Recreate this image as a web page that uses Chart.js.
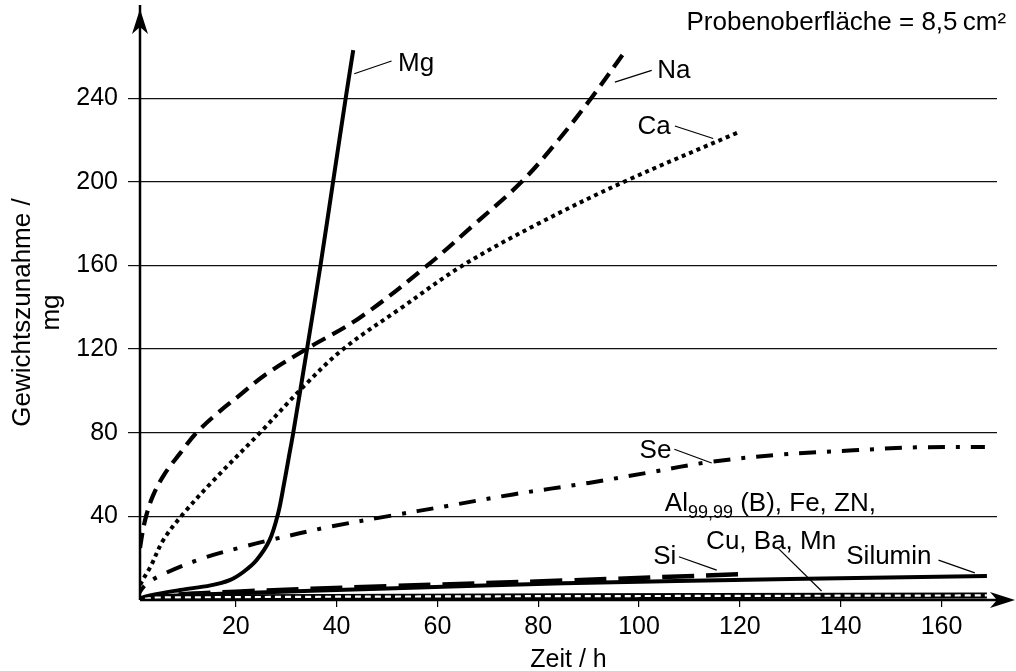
<!DOCTYPE html>
<html>
<head>
<meta charset="utf-8">
<script src="https://cdn.jsdelivr.net/npm/chart.js@4"></script>
<style>
  html, body { margin: 0; padding: 0; background: #fff; }
</style>
</head>
<body>
<canvas id="grafico" width="1016" height="671"></canvas>
<script>
// Werte (Zeit in h, Gewichtszunahme in mg)
var magnesium = [[0,0],[3,2.2],[9,4.8],[15,7],[18.8,9.5],[21.5,13.4],[24.1,19],[26.7,28.6],[28.4,41.4],[29.6,56],[30.5,68],[31.4,80],[34.2,121],[36.8,160],[39.3,200],[41.8,240],[43.3,263]];
var natrium = [[0,0],[0.5,14],[1.2,28],[2.2,40],[3.6,50],[5.8,60],[8.9,70],[12.2,80],[16.2,89],[20.8,98],[26,108],[34,120],[44.6,135],[58,160],[67,179],[76.7,200],[84,220],[90.5,240],[97.4,263]];
var calcium = [[0,0],[1.2,8],[3.1,16],[5.6,28.6],[9.5,41],[15.5,57],[24.8,80],[33.4,102],[41.3,120],[53,140],[65,160],[80,180],[97,200],[119.5,223.5]];
var selen = [[0,0],[2,7],[5.3,12],[13.5,20],[21.4,25.4],[26.7,28.6],[38.6,35],[50,40],[62,45],[75,50.5],[90,56],[102,61],[114,66],[128,69.5],[142.5,71.6],[155,73],[168.6,73.2]];
var silizium = [[0,0],[5,2],[20,4],[50,6.6],[85,9.3],[121,12.4]];
var silumin = [[0,0],[3,1.5],[20,3.2],[50,5.5],[85,8],[130,10],[169,11.5]];
var aluminium = [[0,0],[5,1.2],[169,2.2]];

var xTicks = [20, 40, 60, 80, 100, 120, 140, 160];
var yTicks = [40, 80, 120, 160, 200, 240];

// Beschriftungen in Datenkoordinaten
var labels = [
  { text: "Mg", x: 52.2, y: 256.2, line: [43.5, 251.7, 50.9, 257.8] },
  { text: "Na", x: 103.6, y: 253, line: [95.2, 247.7, 102.5, 253.3] },
  { text: "Ca", x: 99.7, y: 226.3, line: [107.1, 226.7, 114.7, 220.7] },
  { text: "Se", x: 100.1, y: 71.2, line: [107, 72.1, 114.4, 65.5] },
  { text: "Cu, Ba, Mn", x: 113.3, y: 27.8, line: [127.3, 25.4, 136.2, 4.3] },
  { text: "Si", x: 102.8, y: 20.7, line: [107.9, 20.7, 115.4, 14.3] },
  { text: "Silumin", x: 141.1, y: 20.7, line: [159.4, 19.1, 166.6, 13] }
];

var schrift = "'Liberation Sans', Arial, sans-serif";

function toXY(arr) {
  return arr.map(function (p) { return { x: p[0], y: p[1] }; });
}

function kurve(daten, breite, dash) {
  return {
    data: toXY(daten),
    borderColor: "#000",
    borderWidth: breite,
    borderDash: dash,
    borderCapStyle: "butt",
    pointRadius: 0,
    fill: false,
    tension: 0.35
  };
}

var beschriftung = {
  id: "beschriftung",
  afterDraw: function (chart) {
    var ctx = chart.ctx;
    var xs = chart.scales.x, ys = chart.scales.y;
    var area = chart.chartArea;
    ctx.save();

    // Achsen mit Pfeilen
    var x0 = area.left, y0 = area.bottom;
    ctx.strokeStyle = "#000";
    ctx.fillStyle = "#000";
    ctx.lineWidth = 2.5;
    ctx.beginPath();
    ctx.moveTo(x0, y0);
    ctx.lineTo(x0, area.top - 20);
    ctx.moveTo(x0, y0);
    ctx.lineTo(area.right + 4, y0);
    ctx.stroke();
    var ty = area.top - 16;
    ctx.beginPath();
    ctx.moveTo(x0, ty);
    ctx.lineTo(x0 - 8, ty + 25);
    ctx.lineTo(x0, ty + 18);
    ctx.lineTo(x0 + 8, ty + 25);
    ctx.closePath();
    ctx.fill();
    var tx = area.right + 18;
    ctx.beginPath();
    ctx.moveTo(tx, y0);
    ctx.lineTo(tx - 25, y0 - 8);
    ctx.lineTo(tx - 18, y0);
    ctx.lineTo(tx - 25, y0 + 8);
    ctx.closePath();
    ctx.fill();

    // Kurvenbeschriftungen
    ctx.font = "26px " + schrift;
    ctx.textBaseline = "middle";
    ctx.textAlign = "left";
    ctx.lineWidth = 1.2;
    labels.forEach(function (l) {
      ctx.fillText(l.text, xs.getPixelForValue(l.x), ys.getPixelForValue(l.y));
      ctx.beginPath();
      ctx.moveTo(xs.getPixelForValue(l.line[0]), ys.getPixelForValue(l.line[1]));
      ctx.lineTo(xs.getPixelForValue(l.line[2]), ys.getPixelForValue(l.line[3]));
      ctx.stroke();
    });

    // Al mit Index
    var ax = xs.getPixelForValue(105.1), ay = ys.getPixelForValue(45.8);
    ctx.fillText("Al", ax, ay);
    var w = ctx.measureText("Al").width;
    ctx.font = "18px " + schrift;
    ctx.fillText("99,99", ax + w, ay + 9);
    var w2 = ctx.measureText("99,99").width;
    ctx.font = "26px " + schrift;
    ctx.fillText(" (B), Fe, ZN,", ax + w + w2, ay);

    // Probenoberfläche
    ctx.textAlign = "right";
    ctx.fillText("Probenoberfläche = 8,5\u2009cm²", xs.getPixelForValue(172.8), ys.getPixelForValue(276));

    ctx.restore();
  }
};

// Chart.js zeichnet Index 0 zuletzt, also oben
var datasets = [
  Object.assign(kurve(aluminium, 2.2, [6, 4]), { label: "Al hell", borderColor: "#fff" }),
  Object.assign(kurve(aluminium, 6, []), { label: "Al" }),
  Object.assign(kurve(silumin, 4, []), { label: "Silumin" }),
  Object.assign(kurve(silizium, 4.5, [32, 12]), { label: "Si" }),
  Object.assign(kurve(selen, 4, [17, 11, 4, 11]), { label: "Se" }),
  Object.assign(kurve(calcium, 4, [4, 4]), { label: "Ca" }),
  Object.assign(kurve(natrium, 4.2, [15, 8]), { label: "Na" }),
  Object.assign(kurve(magnesium, 4, []), { label: "Mg" })
];

var canvasElement = document.getElementById("grafico");

var config = {
  type: "line",
  data: { datasets: datasets },
  options: {
    responsive: false,
    animation: false,
    layout: { padding: { top: 24, right: 19, left: 0, bottom: 0 } },
    plugins: { legend: { display: false }, tooltip: { enabled: false } },
    scales: {
      x: {
        type: "linear",
        min: 1,
        max: 171,
        afterBuildTicks: function (scale) {
          scale.ticks = xTicks.map(function (v) { return { value: v }; });
        },
        afterFit: function (scale) { scale.height = 71; },
        grid: { drawOnChartArea: false, drawTicks: true, tickLength: 7, color: "#000", lineWidth: 1.2 },
        border: { display: false },
        ticks: { color: "#000", padding: 5, maxRotation: 0, font: { family: schrift, size: 25 } },
        title: { display: true, text: "Zeit / h", color: "#000", padding: { top: 0, bottom: -2 }, font: { family: schrift, size: 25, lineHeight: 1 } }
      },
      y: {
        type: "linear",
        min: 0,
        max: 275,
        afterBuildTicks: function (scale) {
          scale.ticks = yTicks.map(function (v) { return { value: v }; });
        },
        afterFit: function (scale) { scale.width = 140; },
        grid: { drawOnChartArea: true, drawTicks: true, tickLength: 12, color: "#111", lineWidth: 1.2 },
        border: { display: false },
        ticks: { color: "#000", padding: 10, font: { family: schrift, size: 25 } },
        title: { display: true, text: ["Gewichtszunahme /", "mg"], color: "#000", padding: { top: 9, bottom: 0 }, font: { family: schrift, size: 26, lineHeight: 1.1 } }
      }
    }
  },
  plugins: [beschriftung]
};

var graficoZunahme = new Chart(canvasElement, config);
</script>
</body>
</html>
